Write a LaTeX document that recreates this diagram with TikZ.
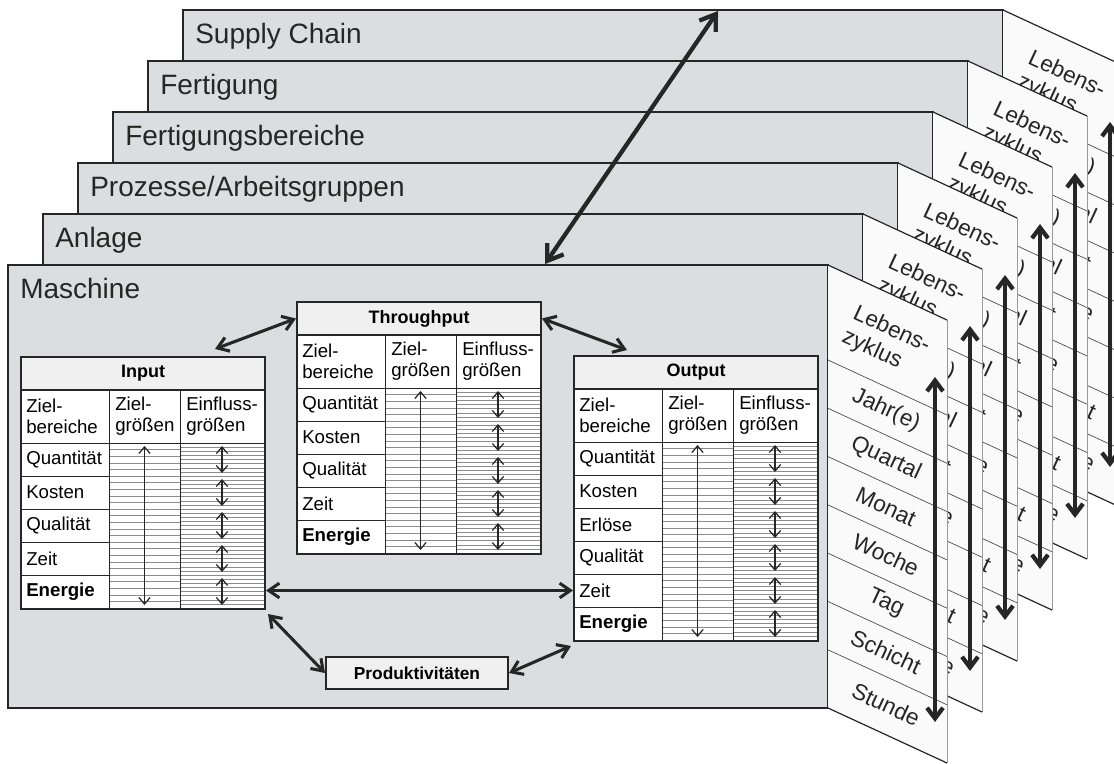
\documentclass[tikz,border=0pt]{standalone}
\usepackage{fontspec}
\setmainfont{Liberation Sans}
\usetikzlibrary{arrows.meta,positioning,calc}
\definecolor{Ink}{HTML}{262626}
\definecolor{LayerGray}{HTML}{DCDDE0}
\definecolor{PanelWhite}{HTML}{FAFAFA}
\definecolor{HeadGray}{HTML}{F0F0F0}
\definecolor{HatchGray}{HTML}{8C8C8C}
\definecolor{RimGray}{HTML}{9A9A9A}
\tikzset{
  layerbox/.style={draw=Ink, line width=1.2pt, fill=LayerGray},
  layerlabel/.style={anchor=base west, inner sep=0pt, text=Ink, font=\fontsize{21}{25}\selectfont},
  panelfill/.style={fill=PanelWhite},
  panelrim/.style={draw=Ink, line width=0.9pt},
  panelside/.style={draw=RimGray, line width=0.6pt},
  panelrule/.style={draw=Ink!85, line width=0.5pt},
  panellabel/.style={rotate=-24.8, inner sep=0pt, align=left, text=Ink, font=\fontsize{17}{19.5}\selectfont},
  timearrow/.style={{Straight Barb[length=8pt,width=12pt]}-{Straight Barb[length=8pt,width=12pt]}, line width=3.2pt, Ink},
  levelarrow/.style={{Straight Barb[length=11pt,width=15pt]}-{Straight Barb[length=11pt,width=15pt]}, line width=3.2pt, Ink},
  linkarrow/.style={{Straight Barb[length=8pt,width=11pt]}-{Straight Barb[length=8pt,width=11pt]}, line width=2.3pt, Ink},
  tinyarrow/.style={{Straight Barb[length=5pt,width=8.5pt]}-{Straight Barb[length=5pt,width=8.5pt]}, line width=0.9pt, Ink},
  headcell/.style={draw=Ink, line width=1.5pt, fill=HeadGray, anchor=north west, minimum width=183pt, minimum height=24.75pt, inner sep=0pt, font=\fontsize{13.5}{16}\selectfont\bfseries},
  colhead/.style={anchor=west, inner sep=0pt, align=left, font=\fontsize{14}{15.5}\selectfont},
  rowcell/.style={anchor=west, inner sep=0pt, font=\fontsize{14}{16}\selectfont},
  tablegrid/.style={draw=Ink, line width=0.6pt},
  hatchline/.style={draw=HatchGray, line width=0.35pt},
  tableframe/.style={draw=Ink, line width=1.5pt, anchor=north west, minimum width=183pt, inner sep=0pt},
  prodbox/.style={draw=Ink, line width=1.5pt, fill=HeadGray, minimum width=136.5pt, minimum height=24pt, inner sep=0pt, font=\fontsize{13}{15}\selectfont\bfseries},
}
% #1 name, #2/#3 top left, #4 title, #5 number of rows, #6 rows
\newcommand\kpitable[6]{%
  \begin{scope}[shift={(#2,#3)}]
    \pgfmathsetmacro\kpibot{87+33*#5}
    \pgfmathsetmacro\kpiframe{(87+33*#5)*0.75}
    \pgfmathtruncatemacro\kpinz{5*#5}
    \pgfmathtruncatemacro\kpine{8*#5}
    \fill[white] (0,33) rectangle (244,\kpibot);
    \foreach \h in {0,...,\kpinz}
      \draw[hatchline] (89,{87+6.6*\h}) -- (160,{87+6.6*\h});
    \foreach \h in {0,...,\kpine}
      \draw[hatchline] (160,{87+4.125*\h}) -- (244,{87+4.125*\h});
    \draw[tablegrid] (0,87) -- (244,87) (89,33) -- (89,\kpibot) (160,33) -- (160,\kpibot);
    \node[headcell] (#1-head) at (0,0) {#4};
    \node[colhead] (#1-zb) at (6,60) {Ziel-\\bereiche};
    \node[colhead] (#1-zg) at (95,60) {Ziel-\\größen};
    \node[colhead] (#1-eg) at (166,60) {Einfluss-\\größen};
    \foreach \lab [count=\i] in {#6} {
      \node[rowcell] (#1-r\i) at (6,{87+33*\i-16.5}) {\lab};
      \draw[tablegrid] (0,{87+33*\i}) -- (89,{87+33*\i});
      \draw[tinyarrow] (202,{87+33*(\i-1)+3}) -- (202,{87+33*\i-3});
    }
    \draw[tinyarrow] (124.5,90) -- (124.5,\kpibot-3);
    \node[tableframe, minimum height=\kpiframe pt] (#1) at (0,0) {};
  \end{scope}}

\begin{document}
\begin{tikzpicture}[x=0.75pt, y=-0.75pt]
  \useasboundingbox (0,0) rectangle (1114,764);
  % levels, back to front
  \foreach \k/\lname in {5/Supply Chain,4/Fertigung,3/Fertigungsbereiche,2/{Prozesse/Arbeitsgruppen},1/Anlage,0/Maschine} {
    \begin{scope}[shift={(35*\k,-51*\k)}]
      \draw[layerbox] (8,265) rectangle (828,708);
      \node[layerlabel] (layer-\k) at (20,298) {\lname};
      % time panel
      \fill[panelfill] (828,265) -- ++(119,55) -- ++(0,443) -- ++(-119,-55) -- cycle;
      \foreach \r in {0,...,6}
        \draw[panelrule] (828,{360+48.3*\r}) -- ++(119,55);
      \draw[panelside] (947,320) -- (947,763);
      \draw[panelrim] (828,265) -- (947,320) (828,708) -- (947,763);
      \foreach \t/\m [count=\i] in {{Lebens-\\zyklus}/51,{Jahr(e)}/119.2,Quartal/167.5,Monat/215.8,Woche/264.1,Tag/312.4,Schicht/360.7,Stunde/413.4}
        \node[panellabel] (tl-\k-\i) at (886,{265+\m+26}) {\t};
      \coordinate (tt-\k) at (935,377);
      \coordinate (tb-\k) at (935,722);
      \draw[timearrow] (tt-\k) -- (tb-\k);
    \end{scope}
  }
  \coordinate (mach-top) at (545,264);
  \coordinate (chain-top) at (718,11);
  \draw[levelarrow] (mach-top) -- (chain-top);

  % tables on the machine level
  \kpitable{input}{20}{356}{Input}{5}{Quantität,Kosten,Qualität,Zeit,\textbf{Energie}}
  \kpitable{through}{296}{301}{Throughput}{5}{Quantität,Kosten,Qualität,Zeit,\textbf{Energie}}
  \kpitable{output}{573}{355}{Output}{6}{Quantität,Kosten,Erlöse,Qualität,Zeit,\textbf{Energie}}
  \node[prodbox] (prod) at (417,673) {Produktivitäten};

  \draw[linkarrow] ($(input.north east)+(-51,-7)$) -- (through-head.west);
  \draw[linkarrow] (through-head.east) -- ($(output.north west)+(54,-5)$);
  \draw[linkarrow] (input.east |- output-r5) -- (output.west |- output-r5);
  \draw[linkarrow] ($(input.south east)+(2,4)$) -- (prod.west);
  \draw[linkarrow] (prod.east) -- ($(output.south west)+(-2,4)$);
\end{tikzpicture}
\end{document}
